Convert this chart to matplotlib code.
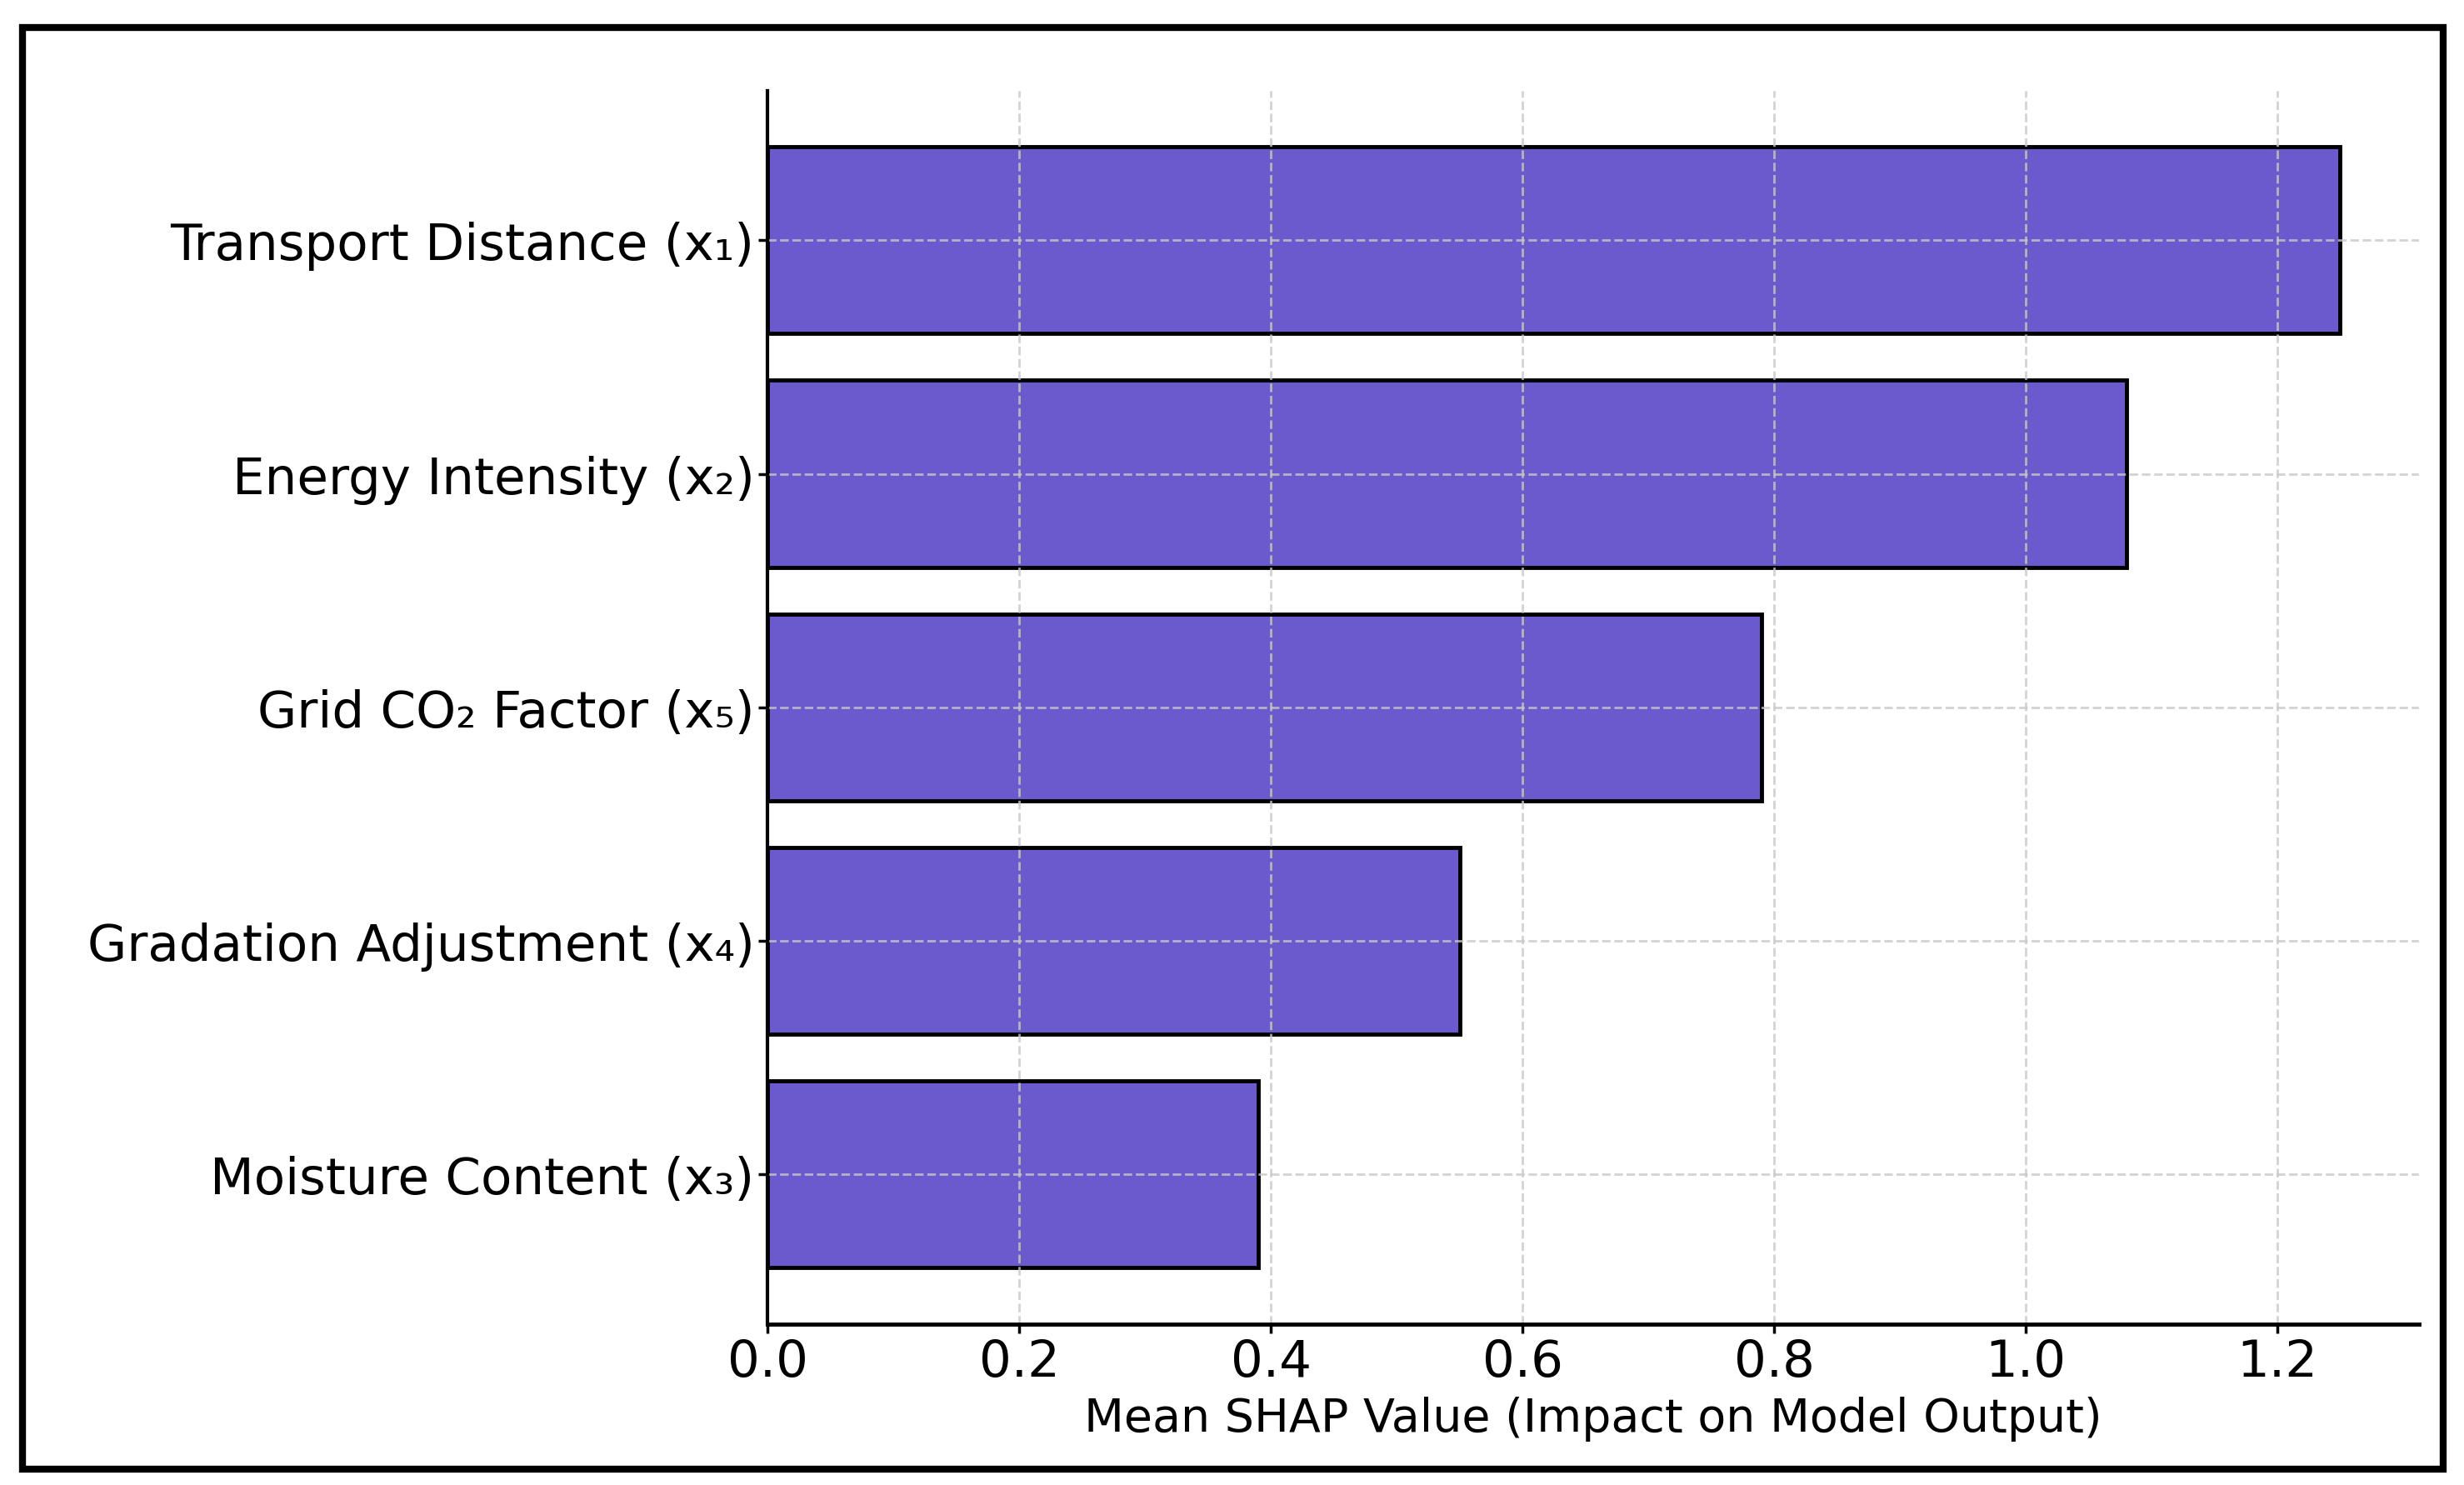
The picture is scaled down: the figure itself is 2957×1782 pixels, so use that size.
import matplotlib
matplotlib.use("Agg")
import matplotlib.pyplot as plt
from matplotlib.patches import Rectangle

# feature importance (mean |SHAP|), top feature first
features = [
    "Transport Distance (x\u2081)",
    "Energy Intensity (x\u2082)",
    "Grid CO\u2082 Factor (x\u2085)",
    "Gradation Adjustment (x\u2084)",
    "Moisture Content (x\u2083)",
]
shap_values = [1.25, 1.08, 0.79, 0.55, 0.39]

plt.rcParams["font.family"] = ["DejaVu Sans"]

fig = plt.figure(figsize=(29.57, 17.83), dpi=100)
ax = fig.add_axes([0.3116, 0.1085, 0.6700, 0.8298])

# reversed so the biggest bar sits on top
ax.barh(features[::-1], shap_values[::-1], height=0.8,
        color="#6a5acd", edgecolor="black", linewidth=3.5)

ax.set_xlabel("Mean SHAP Value (Impact on Model Output)", fontsize=40, labelpad=8)
ax.tick_params(axis="both", labelsize=44, width=2.5, length=8)
ax.set_xticks([0.0, 0.2, 0.4, 0.6, 0.8, 1.0, 1.2])

ax.grid(True, linestyle="--", linewidth=2, color="#c8c8c8", alpha=0.8)
ax.set_axisbelow(False)

ax.spines["top"].set_visible(False)
ax.spines["right"].set_visible(False)
ax.spines["left"].set_linewidth(3)
ax.spines["bottom"].set_linewidth(3.5)
ax.spines["left"].set_zorder(5)
ax.spines["bottom"].set_zorder(5)

# black frame round the whole picture
frame = Rectangle((0.009, 0.0106), 0.9827, 0.9704, transform=fig.transFigure,
                  fill=False, edgecolor="black", linewidth=6)
fig.patches.append(frame)

fig.savefig("out.png", dpi=100)
